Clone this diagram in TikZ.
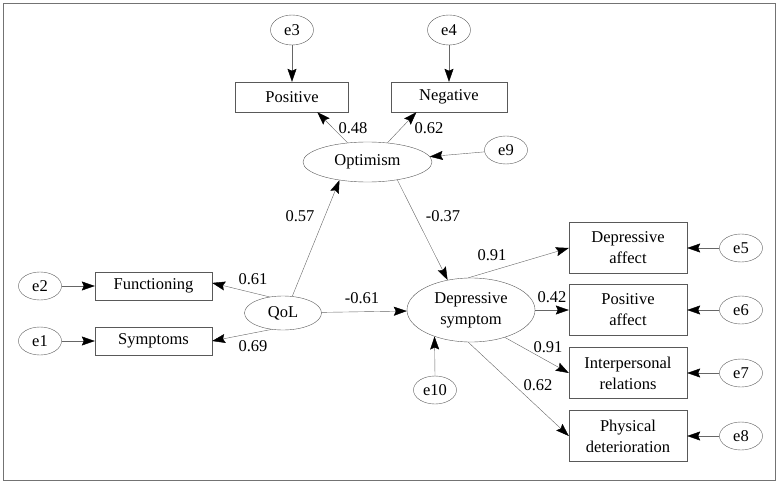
\documentclass[tikz,border=0pt]{standalone}
\usepackage{fontspec}
\setmainfont{Liberation Serif}
\usetikzlibrary{shapes.geometric,arrows.meta}
\newcommand{\semfont}{\fontsize{16.5}{21}\selectfont}
\tikzset{
  lat/.style = {ellipse, draw = black!65, inner sep = 0pt, align = center},
  obs/.style = {rectangle, draw = black!65, inner sep = 0pt, align = center},
  err/.style = {ellipse, draw = black!65, inner sep = 0pt, minimum width = 43, minimum height = 28},
  path/.style = {draw = black!60, -{Stealth[length = 13pt, width = 9pt, inset = 2pt, color = black]}},
  every node/.style = {font = \semfont}
}
\begin{document}
\begin{tikzpicture}[x = 1pt, y = -1pt]
\useasboundingbox (0,0) rectangle (780,484);
\draw [black!55, line width = 0.8pt] (3,3) rectangle (775,480);
% latent variables
\node (opt) [lat, minimum width = 129, minimum height = 40] at (367.5,162) {Optimism};
\node (qol) [lat, minimum width = 77, minimum height = 34] at (283,313) {QoL};
\node (ds)  [lat, minimum width = 128, minimum height = 64] at (471,310) {Depressive\\symptom};
% indicators
\node (pos)  [obs, minimum width = 113, minimum height = 30] at (292,97) {Positive};
\node (neg)  [obs, minimum width = 116, minimum height = 30] at (449,97) {Negative};
\node (func) [obs, minimum width = 117, minimum height = 28] at (153.5,286) {Functioning};
\node (sym)  [obs, minimum width = 117, minimum height = 28] at (153.5,341) {Symptoms};
\node (da) [obs, minimum width = 118, minimum height = 51] at (628,248) {Depressive\\affect};
\node (pa) [obs, minimum width = 118, minimum height = 51] at (628,310) {Positive\\affect};
\node (ir) [obs, minimum width = 118, minimum height = 51] at (628,373) {Interpersonal\\relations};
\node (pd) [obs, minimum width = 118, minimum height = 51] at (628,436) {Physical\\deterioration};
% error terms
\node (e1)  [err] at (40,341) {e1};
\node (e2)  [err] at (40,286) {e2};
\node (e3)  [err, minimum height = 30] at (292,30) {e3};
\node (e4)  [err, minimum height = 30] at (449,30) {e4};
\node (e5)  [err] at (741,248) {e5};
\node (e6)  [err] at (741,310) {e6};
\node (e7)  [err] at (741,373) {e7};
\node (e8)  [err] at (741,436) {e8};
\node (e9)  [err] at (506,150) {e9};
\node (e10) [err] at (435,390) {e10};
% paths
\draw [path] (e3) -- (pos);
\draw [path] (e4) -- (neg);
\draw [path] (opt.136) -- (pos.-31);
\draw [path] (opt.44) -- (neg.205);
\draw [path] (e9) -- (opt);
\draw [path] (qol.61) -- (opt.213);
\draw [path] (opt.-31) -- (ds.128);
\draw [path] (qol.130) -- (func.3);
\draw [path] (qol.235) -- (sym.east);
\draw [path] (e2) -- (func);
\draw [path] (e1) -- (sym);
\draw [path] (qol) -- (ds);
\draw [path] (e10.north) -- (ds.216);
\draw [path] (ds.95) -- (da.west);
\draw [path] (ds.east) -- (pa.west);
\draw [path] (ds.-39) -- (ir.west);
\draw [path] (ds.-95) -- (pd.west);
\draw [path] (e5) -- (da);
\draw [path] (e6) -- (pa);
\draw [path] (e7) -- (ir);
\draw [path] (e8) -- (pd);
% loadings
\node (w1)  at (353,128) {0.48};
\node (w2)  at (429,128) {0.62};
\node (w3)  at (300,216) {0.57};
\node (w4)  at (443,216) {-0.37};
\node (w5)  at (362,298) {-0.61};
\node (w6)  at (253,279) {0.61};
\node (w7)  at (253,346) {0.69};
\node (w8)  at (492,255) {0.91};
\node (w9)  at (552,297) {0.42};
\node (w10) at (548,347) {0.91};
\node (w11) at (538,385) {0.62};
\end{tikzpicture}
\end{document}
